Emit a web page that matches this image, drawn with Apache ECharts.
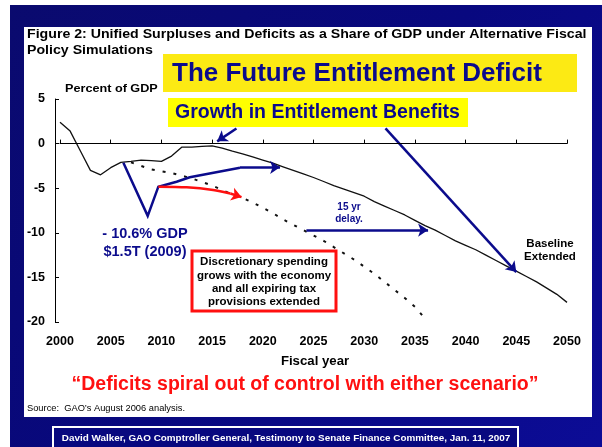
<!DOCTYPE html>
<html>
<head>
<meta charset="utf-8">
<script src="https://cdn.jsdelivr.net/npm/echarts@6/dist/echarts.min.js"></script>
<style>
  html, body { margin: 0; padding: 0; background: #fff; }
  #chart { width: 602px; height: 447px; }
</style>
</head>
<body>
<div id="chart"></div>
<script>
// fiscal years and the baseline extended path (% of GDP)
const years = [2000, 2001, 2002, 2003, 2004, 2005, 2006, 2007, 2008, 2009,
  2010, 2011, 2012, 2013, 2014, 2015, 2016, 2017, 2018, 2019,
  2020, 2021, 2022, 2023, 2024, 2025, 2026, 2027, 2028, 2029,
  2030, 2031, 2032, 2033, 2034, 2035, 2036, 2037, 2038, 2039,
  2040, 2041, 2042, 2043, 2044, 2045, 2046, 2047, 2048, 2049, 2050];
const baseline = [2.4, 1.4, -0.8, -3.0, -3.5, -2.7, -2.1, -2.0, -1.85, -1.9,
  -2.0, -1.4, -0.4, -0.4, -0.3, -0.25, -0.5, -0.85, -1.15, -1.5,
  -1.85, -2.2, -2.6, -3.0, -3.4, -3.8, -4.25, -4.7, -5.1, -5.5,
  -5.9, -6.5, -7.0, -7.5, -8.0, -8.6, -9.2, -9.7, -10.3, -10.9,
  -11.4, -11.9, -12.5, -13.1, -13.7, -14.3, -14.9, -15.5, -16.2, -16.9, -17.8];

// alternative: discretionary spending grows with economy, tax cuts extended
const altYears = [2007, 2008, 2009, 2010, 2011, 2012, 2013, 2014, 2015, 2016,
  2017, 2018, 2019, 2020, 2021, 2022, 2023, 2024, 2025, 2026,
  2027, 2028, 2029, 2030, 2031, 2032, 2033, 2034, 2035, 2036];
const altValues = [-2.1, -2.5, -2.9, -3.1, -3.3, -3.6, -3.9, -4.3, -4.7, -5.2,
  -5.7, -6.1, -6.6, -7.2, -7.8, -8.5, -9.1, -9.7, -10.3, -10.9,
  -11.6, -12.3, -13.0, -13.8, -14.6, -15.5, -16.4, -17.3, -18.3, -19.6];

// hand-drawn annotation paths, [year, % of GDP]
const dipPath = [[2006.25, -2.15], [2008.65, -8.1], [2009.7, -4.83]];
const recoveryPath = [[2011.5, -4.27], [2012.8, -3.78], [2017.75, -2.7]];
const recoveryArrow = [[2017.75, -2.7], [2021.7, -2.66]];
const redPath = [[2009.7, -4.83], [2012.5, -4.9], [2015.1, -5.2], [2016.8, -5.6]];
const redArrow = [[2016.8, -5.6], [2017.9, -6.0]];
const benefitArrowA = [[2017.4, 1.7], [2015.5, 0.25]];
const benefitArrowB = [[2032.1, 1.7], [2045.0, -14.4]];
const delayArrow = [[2024.3, -9.7], [2036.3, -9.7]];

const FONT = '"Liberation Sans", Arial, sans-serif';
const NAVY = '#0b0b8c';
const SLIDE = '#08087f';

// the slide was stretched sideways, so some text is a little wider than Arial
function txt(text, x, y, size, color, align, weight, sx) {
  return {
    type: 'text', z: 50, x: x, y: y, scaleX: sx || 1,
    style: {
      text: text, x: 0, y: 0,
      font: (weight || 'bold') + ' ' + size + 'px ' + FONT,
      fill: color, textAlign: align || 'left', textVerticalAlign: 'middle'
    }
  };
}

function arrows(list) {
  return list.map(a => [{ coord: a[0] }, { coord: a[1] }]);
}

const chart = echarts.init(document.getElementById('chart'));
chart.setOption({
  animation: false,
  backgroundColor: '#ffffff',
  grid: { left: 60, right: 35, top: 99, bottom: 125 },
  xAxis: [{
    type: 'value', min: 2000, max: 2050, interval: 5, z: 10,
    axisLine: { show: false, onZero: false },
    axisTick: { show: false },
    splitLine: { show: false },
    axisLabel: {
      color: '#000', fontFamily: FONT, fontWeight: 'bold', fontSize: 12.5, margin: 13,
      formatter: v => String(v)
    }
  }, {
    type: 'value', min: 2000, max: 2050, interval: 5, position: 'bottom', z: 10,
    axisLine: { show: true, onZero: true, lineStyle: { color: '#000', width: 1 } },
    axisTick: { show: true, inside: true, length: 4, lineStyle: { color: '#000' } },
    splitLine: { show: false },
    axisLabel: { show: false }
  }],
  yAxis: {
    type: 'value', min: -20, max: 5, interval: 5, offset: 5, z: 10,
    axisLine: { show: true, lineStyle: { color: '#000', width: 1 } },
    axisTick: { show: true, inside: true, length: 4, lineStyle: { color: '#000' } },
    splitLine: { show: false },
    axisLabel: { color: '#000', fontFamily: FONT, fontWeight: 'bold', fontSize: 12.5, margin: 10 }
  },
  series: [{
    name: 'Baseline Extended', type: 'line', symbol: 'none', z: 3,
    data: years.map((y, i) => [y, baseline[i]]),
    lineStyle: { color: '#111', width: 1.3 }
  }, {
    name: 'Alternative', type: 'line', symbol: 'none', z: 3,
    data: altYears.map((y, i) => [y, altValues[i]]),
    lineStyle: { color: '#111', width: 2, type: [3, 8] }
  }, {
    name: 'Blue annotations', type: 'line', symbol: 'none', z: 4,
    data: dipPath.concat(recoveryPath),
    lineStyle: { color: NAVY, width: 2.5, join: 'miter' },
    markLine: {
      silent: true, symbol: ['none', 'arrow'], symbolSize: 10,
      label: { show: false },
      lineStyle: { color: NAVY, width: 2.5, type: 'solid' },
      data: arrows([recoveryArrow, benefitArrowA, benefitArrowB, delayArrow])
    }
  }, {
    name: 'Red annotation', type: 'line', symbol: 'none', z: 4, smooth: 0.3,
    data: redPath,
    lineStyle: { color: '#ff1010', width: 2.5 },
    markLine: {
      silent: true, symbol: ['none', 'arrow'], symbolSize: 10,
      label: { show: false },
      lineStyle: { color: '#ff1010', width: 2.5, type: 'solid' },
      data: arrows([redArrow])
    }
  }],
  graphic: [
    { type: 'rect', z: -2, shape: { x: 10, y: 5, width: 592, height: 442 },
      style: { fill: new echarts.graphic.LinearGradient(0, 0, 1, 1, [
        { offset: 0, color: '#0a0a6e' }, { offset: 0.5, color: SLIDE }, { offset: 1, color: '#0c0c96' }]) } },
    { type: 'rect', z: -1, shape: { x: 24, y: 27, width: 568, height: 390 }, style: { fill: '#ffffff' } },
    txt('Figure 2: Unified Surpluses and Deficits as a Share of GDP under Alternative Fiscal', 27, 35, 12, '#000', 'left', 'bold', 1.18),
    txt('Policy Simulations', 27, 51, 12, '#000', 'left', 'bold', 1.18),
    { type: 'rect', z: 40, shape: { x: 163, y: 54, width: 414, height: 38 }, style: { fill: '#fcea14' } },
    txt('The Future Entitlement Deficit', 172, 74, 26, NAVY),
    { type: 'rect', z: 40, shape: { x: 168, y: 98, width: 300, height: 29 }, style: { fill: '#ffff00' } },
    txt('Growth in Entitlement Benefits', 175, 113, 19.5, NAVY),
    txt('Percent of GDP', 65, 89, 11.5, '#000', 'left', 'bold', 1.1),
    txt('- 10.6% GDP', 145, 234, 14.5, NAVY, 'center'),
    txt('$1.5T (2009)', 145, 252, 14.5, NAVY, 'center'),
    { type: 'rect', z: 40, shape: { x: 192, y: 251, width: 144, height: 60 },
      style: { fill: '#fff', stroke: '#ff1010', lineWidth: 3 } },
    txt('Discretionary spending', 264, 262, 11.5, '#000', 'center'),
    txt('grows with the economy', 264, 275.5, 11.5, '#000', 'center'),
    txt('and all expiring tax', 264, 289, 11.5, '#000', 'center'),
    txt('provisions extended', 264, 302, 11.5, '#000', 'center'),
    txt('15 yr', 349, 207, 10, NAVY, 'center'),
    txt('delay.', 349, 219.5, 10, NAVY, 'center'),
    txt('Baseline', 550, 244, 11.5, '#000', 'center'),
    txt('Extended', 550, 257, 11.5, '#000', 'center'),
    txt('Fiscal year', 315, 362, 12, '#000', 'center', 'bold', 1.1),
    txt('\u201cDeficits spiral out of control with either scenario\u201d', 305, 385, 19.5, '#ff1010', 'center'),
    txt('Source:  GAO\u2019s August 2006 analysis.', 27, 408, 9.3, '#000', 'left', 'normal'),
    { type: 'rect', z: 40, shape: { x: 53, y: 427, width: 465, height: 30 },
      style: { fill: SLIDE, stroke: '#ffffff', lineWidth: 2 } },
    txt('David Walker, GAO Comptroller General, Testimony to Senate Finance Committee, Jan. 11, 2007', 286, 438, 9.9, '#ffffff', 'center')
  ]
});
</script>
</body>
</html>
